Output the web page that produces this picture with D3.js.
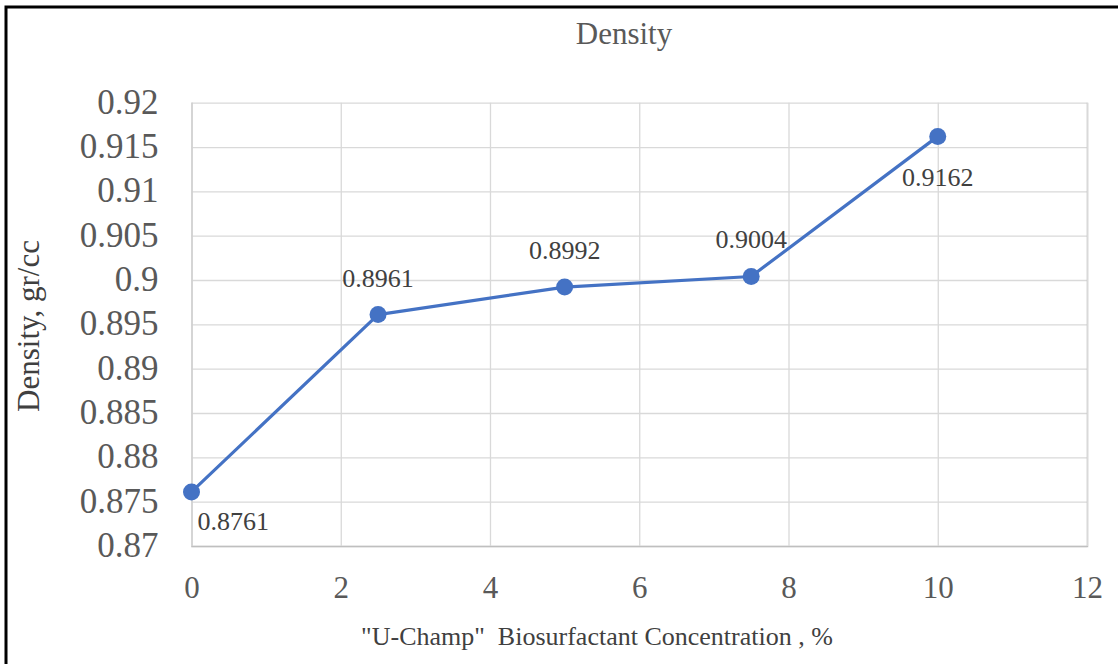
<!DOCTYPE html>
<html>
<head>
<meta charset="utf-8">
<script src="https://cdn.jsdelivr.net/npm/d3@7"></script>
<style>
  body { margin: 0; background: #fff; }
  svg { display: block; }
  svg text { font-family: 'Liberation Serif', 'Times New Roman', serif; }
</style>
</head>
<body>
<svg id="chart" width="1118" height="664"></svg>
<script>
// data
const concentration = [0, 2.5, 5, 7.5, 10];
const density = [0.8761, 0.8961, 0.8992, 0.9004, 0.9162];
const labelSide = ["below-right", "above", "above", "above", "below"];
const xTicks = [0, 2, 4, 6, 8, 10, 12];
const yTicks = [0.87, 0.875, 0.88, 0.885, 0.89, 0.895, 0.9, 0.905, 0.91, 0.915, 0.92];

const svg = d3.select("#chart");
const margin = { left: 191.5, right: 31, top: 102.7, bottom: 118 };
const width = 1118 - margin.left - margin.right,
  height = 664 - margin.top - margin.bottom;

// outer frame (only top and left edges visible in the crop)
svg
  .append("rect")
  .attr("x", 6)
  .attr("y", 7)
  .attr("width", 1200)
  .attr("height", 800)
  .attr("fill", "none")
  .attr("stroke", "#000")
  .attr("stroke-width", 3);

const x = d3.scaleLinear().domain([0, 12]).range([0, width]);
const y = d3.scaleLinear().domain([0.87, 0.92]).range([height, 0]);

const g = svg
  .append("g")
  .attr("transform", `translate(${margin.left},${margin.top})`);

// horizontal gridlines + y tick labels
const yAxis = g
  .append("g")
  .call(
    d3
      .axisLeft(y)
      .tickValues(yTicks)
      .tickSize(-width)
      .tickPadding(33)
      .tickFormat(d3.format("~g"))
  )
  .attr("font-family", null)
  .attr("font-size", null);
yAxis.select(".domain").remove();
yAxis.selectAll("line").attr("stroke", "#d9d9d9").attr("stroke-width", 1.3);
yAxis
  .selectAll("text")
  .attr("fill", "#595959")
  .attr("dy", "0.3em")
  .style("font-size", "35px");

// vertical gridlines + x tick labels
const xAxis = g
  .append("g")
  .attr("transform", `translate(0,${height})`)
  .call(
    d3
      .axisBottom(x)
      .tickValues(xTicks)
      .tickSize(-height)
      .tickPadding(30)
      .tickFormat(d3.format("d"))
  )
  .attr("font-family", null)
  .attr("font-size", null);
xAxis.select(".domain").attr("stroke", "#bfbfbf").attr("stroke-width", 1.5);
xAxis.selectAll("line").attr("stroke", "#d9d9d9").attr("stroke-width", 1.3);
xAxis
  .selectAll("text")
  .attr("fill", "#595959")
  .style("font-size", "31px");

// series
const points = concentration.map((c, i) => ({ x: c, y: density[i], side: labelSide[i] }));

g.append("path")
  .datum(points)
  .attr("fill", "none")
  .attr("stroke", "#4472c4")
  .attr("stroke-width", 3.2)
  .attr("stroke-linejoin", "round")
  .attr("d", d3.line().x((d) => x(d.x)).y((d) => y(d.y)));

g.selectAll("circle")
  .data(points)
  .enter()
  .append("circle")
  .attr("cx", (d) => x(d.x))
  .attr("cy", (d) => y(d.y))
  .attr("r", 8.5)
  .attr("fill", "#4472c4");

g.selectAll(".dlabel")
  .data(points)
  .enter()
  .append("text")
  .attr("class", "dlabel")
  .attr("x", (d) => x(d.x) + (d.side == "below-right" ? 6 : 0))
  .attr("y", (d) => {
    if (d.side == "above") return y(d.y) - 28;
    if (d.side == "below") return y(d.y) + 50;
    return y(d.y) + 38;
  })
  .attr("text-anchor", (d) => (d.side == "below-right" ? "start" : "middle"))
  .attr("fill", "#404040")
  .style("font-size", "26px")
  .text((d) => d.y);

// titles
svg
  .append("text")
  .attr("x", 624)
  .attr("y", 44)
  .attr("text-anchor", "middle")
  .attr("fill", "#595959")
  .style("font-size", "31px")
  .text("Density");

svg
  .append("text")
  .attr("transform", "translate(39,326) rotate(-90)")
  .attr("text-anchor", "middle")
  .attr("fill", "#404040")
  .style("font-size", "31px")
  .text("Density, gr/cc");

svg
  .append("text")
  .attr("x", 597)
  .attr("y", 645)
  .attr("text-anchor", "middle")
  .attr("fill", "#404040")
  .style("font-size", "26px")
  .style("white-space", "pre")
  .text('"U-Champ"  Biosurfactant Concentration , %');
</script>
</body>
</html>
